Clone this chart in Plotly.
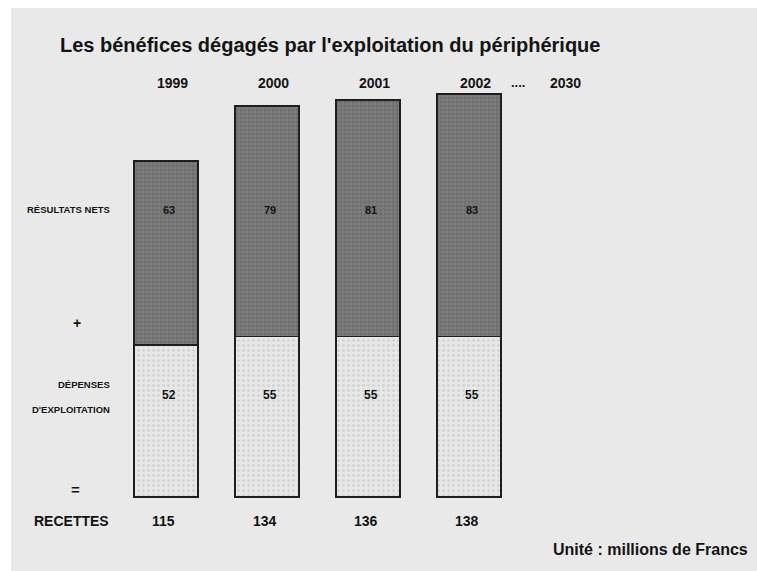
import plotly.graph_objects as go

years = ["1999", "2000", "2001", "2002"]
future_year = "2030"
depenses = [52, 55, 55, 55]
resultats = [63, 79, 81, 83]
recettes = [d + r for d, r in zip(depenses, resultats)]

title = "Les bénéfices dégagés par l'exploitation du périphérique"
unit_text = "Unité : millions de Francs"

FONT = "Liberation Sans, Arial"
DARK = "#141414"
xs = list(range(len(years)))

fig = go.Figure()
fig.add_trace(go.Bar(
    x=xs, y=depenses, width=0.63,
    marker=dict(color="#e4e4e4", line=dict(color="#1e1e1e", width=1.6),
                pattern=dict(shape=".", fgcolor="#b8b8b8", bgcolor="#e7e7e7", size=5, solidity=0.2)),
    hoverinfo="skip", showlegend=False))
fig.add_trace(go.Bar(
    x=xs, y=resultats, width=0.63,
    marker=dict(color="#747474", line=dict(color="#1e1e1e", width=1.6),
                pattern=dict(shape=".", fgcolor="#5e5e5e", bgcolor="#7a7a7a", size=4, solidity=0.35)),
    hoverinfo="skip", showlegend=False))

ann = []
def add(text, x, y, size, xanchor="center"):
    ann.append(dict(text=text, x=x, y=y, xref="x", yref="y", showarrow=False,
                    xanchor=xanchor, yanchor="middle",
                    font=dict(family=FONT, size=size, color=DARK)))

# year labels
for i, yr in enumerate(years):
    add("<b>%s</b>" % yr, i + 0.06, 141.8, 14)
add("<b>....</b>", 3.49, 141.8, 13)
add("<b>%s</b>" % future_year, 3.96, 141.8, 14)

# values
for i in xs:
    add("<b>%d</b>" % resultats[i], i + 0.03, 98.3, 11)
    add("<b>%d</b>" % depenses[i], i + 0.03, 35.0, 12)
    add("<b>%d</b>" % recettes[i], i - 0.02, -8.2, 14)

# row labels
add("<b>RÉSULTATS NETS</b>", -0.53, 98.3, 9.5, xanchor="right")
add("<b>+</b>", -0.88, 59.5, 14)
add("<b>DÉPENSES</b>", -0.53, 38.4, 9.5, xanchor="right")
add("<b>D'EXPLOITATION</b>", -0.53, 30.1, 9.5, xanchor="right")
add("<b>=</b>", -0.9, 2.6, 15)
add("<b>RECETTES</b>", -0.54, -8.2, 14, xanchor="right")

fig.update_layout(
    width=757, height=571,
    margin=dict(l=11, r=0, t=8, b=0),
    paper_bgcolor="white", plot_bgcolor="#e9e9e9",
    barmode="stack", bargap=0,
    xaxis=dict(range=[-1.5347, 5.8515], visible=False, fixedrange=True),
    yaxis=dict(range=[-25.34, 167.47], visible=False, fixedrange=True),
    annotations=ann,
)
fig.add_annotation(text="<b>%s</b>" % title, x=(58 - 11) / 746, y=1 - (45 - 8) / 563,
                   xref="paper", yref="paper", showarrow=False, xanchor="left", yanchor="middle",
                   font=dict(family=FONT, size=20, color=DARK))
fig.add_annotation(text="<b>%s</b>" % unit_text, x=(750 - 11) / 746, y=1 - (549 - 8) / 563,
                   xref="paper", yref="paper", showarrow=False, xanchor="right", yanchor="middle",
                   font=dict(family=FONT, size=16, color=DARK))

fig.write_html(
    "out.html",
    config={"displayModeBar": False, "staticPlot": True},
    post_script="document.body.style.margin='0';document.body.style.overflow='hidden';",
)
